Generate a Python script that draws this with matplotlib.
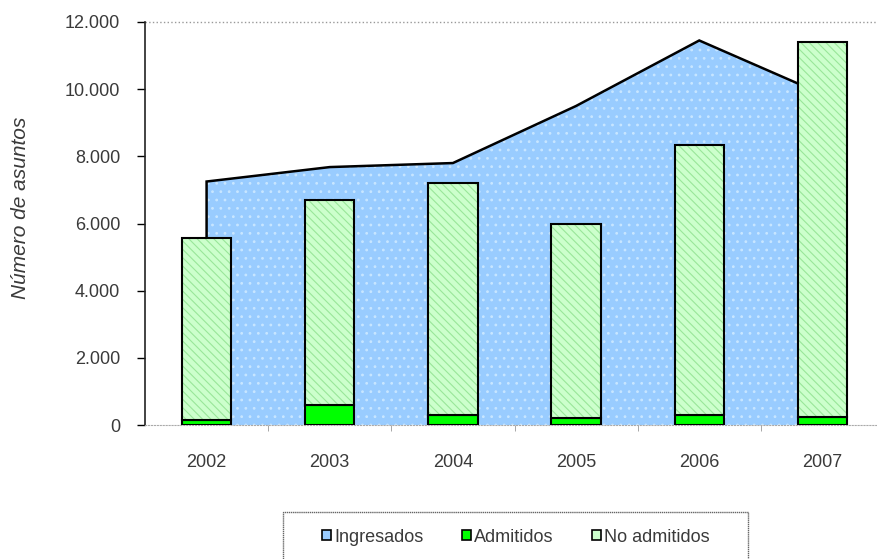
import matplotlib
matplotlib.use("Agg")
import matplotlib.pyplot as plt
from matplotlib.patches import Patch, Rectangle
from matplotlib.ticker import FuncFormatter
import numpy as np

plt.rcParams['font.family'] = ['Liberation Sans', 'DejaVu Sans']
plt.rcParams['hatch.linewidth'] = 0.8

years = ['2002', '2003', '2004', '2005', '2006', '2007']
ingresados = [7250, 7680, 7800, 9500, 11450, 9850]
admitidos = [150, 600, 300, 200, 300, 240]
no_admitidos = [5420, 6100, 6900, 5780, 8030, 11160]

TXT = '#3a3a3a'
fig = plt.figure(figsize=(8.77, 5.59), dpi=100)
ax = fig.add_axes([145/877, 1-425/559, (884-145)/877, (425-22)/559])
x = np.arange(len(years))

# area
ax.fill_between(x, 0, ingresados, facecolor='#99CCFF', edgecolor='#C8E6FF',
                hatch='..', linewidth=0, zorder=1)
ax.plot(np.r_[x[0], x, x[-1]], np.r_[0, ingresados, 0], color='black', lw=1.8,
        zorder=2, solid_joinstyle='miter')

w = 0.4
ax.bar(x, admitidos, w, color='#00FF00', edgecolor='black', lw=1.5, zorder=3)
ax.bar(x, no_admitidos, w, bottom=admitidos, color='#CCFFCC', edgecolor='#99E699',
       hatch='\\\\\\\\', lw=0, zorder=3)
ax.bar(x, no_admitidos, w, bottom=admitidos, fill=False, edgecolor='black',
       lw=1.5, zorder=4)

ax.set_xlim(-0.5, 5.5)
ax.set_ylim(0, 12000)
ax.set_yticks(range(0, 12001, 2000))
ax.yaxis.set_major_formatter(FuncFormatter(lambda v, p: f'{int(v):,}'.replace(',', '.')))
ax.set_xticks(x)
ax.set_xticklabels(years)
ax.set_xticks(np.arange(0.5, 5.5, 1), minor=True)
ax.tick_params(axis='x', which='major', length=0, pad=21, labelsize=13, colors=TXT)
ax.tick_params(axis='x', which='minor', length=4, color='#999999')
ax.tick_params(axis='y', length=6, width=1, color='black', labelsize=13,
               labelcolor=TXT, pad=12)
for s in ['top', 'right']:
    ax.spines[s].set_visible(False)
ax.spines['left'].set_color('#222222')
ax.spines['left'].set_linewidth(1.2)
ax.spines['bottom'].set_color('#aaaaaa')
ax.spines['bottom'].set_linestyle(':')
ax.axhline(12000, color='#999999', lw=1, ls=':', zorder=0, clip_on=False)

ax.set_ylabel('Número de asuntos', style='italic', color=TXT, fontsize=15)
ax.yaxis.set_label_coords((30-145)/739, (425-208)/403)

fig.patches.append(Rectangle((283/877, 1-570/559), (748-283)/877, (570-512)/559,
                             transform=fig.transFigure, facecolor='none',
                             edgecolor='#666666', lw=1, ls=(0, (1, 0.5))))
handles = [Patch(facecolor='#99CCFF', edgecolor='black', lw=1.2),
           Patch(facecolor='#00FF00', edgecolor='black', lw=1.2),
           Patch(facecolor='#CCFFCC', edgecolor='black', lw=1.2)]
leg = fig.legend(handles, ['Ingresados', 'Admitidos', 'No admitidos'], ncol=3,
                 loc='center', bbox_to_anchor=(516/877, 1-537/559), frameon=False,
                 handlelength=0.5, handleheight=0.5,
                 handletextpad=0.2, columnspacing=2.1, fontsize=13)
for t in leg.get_texts():
    t.set_color(TXT)

fig.savefig('out.png', dpi=100)
